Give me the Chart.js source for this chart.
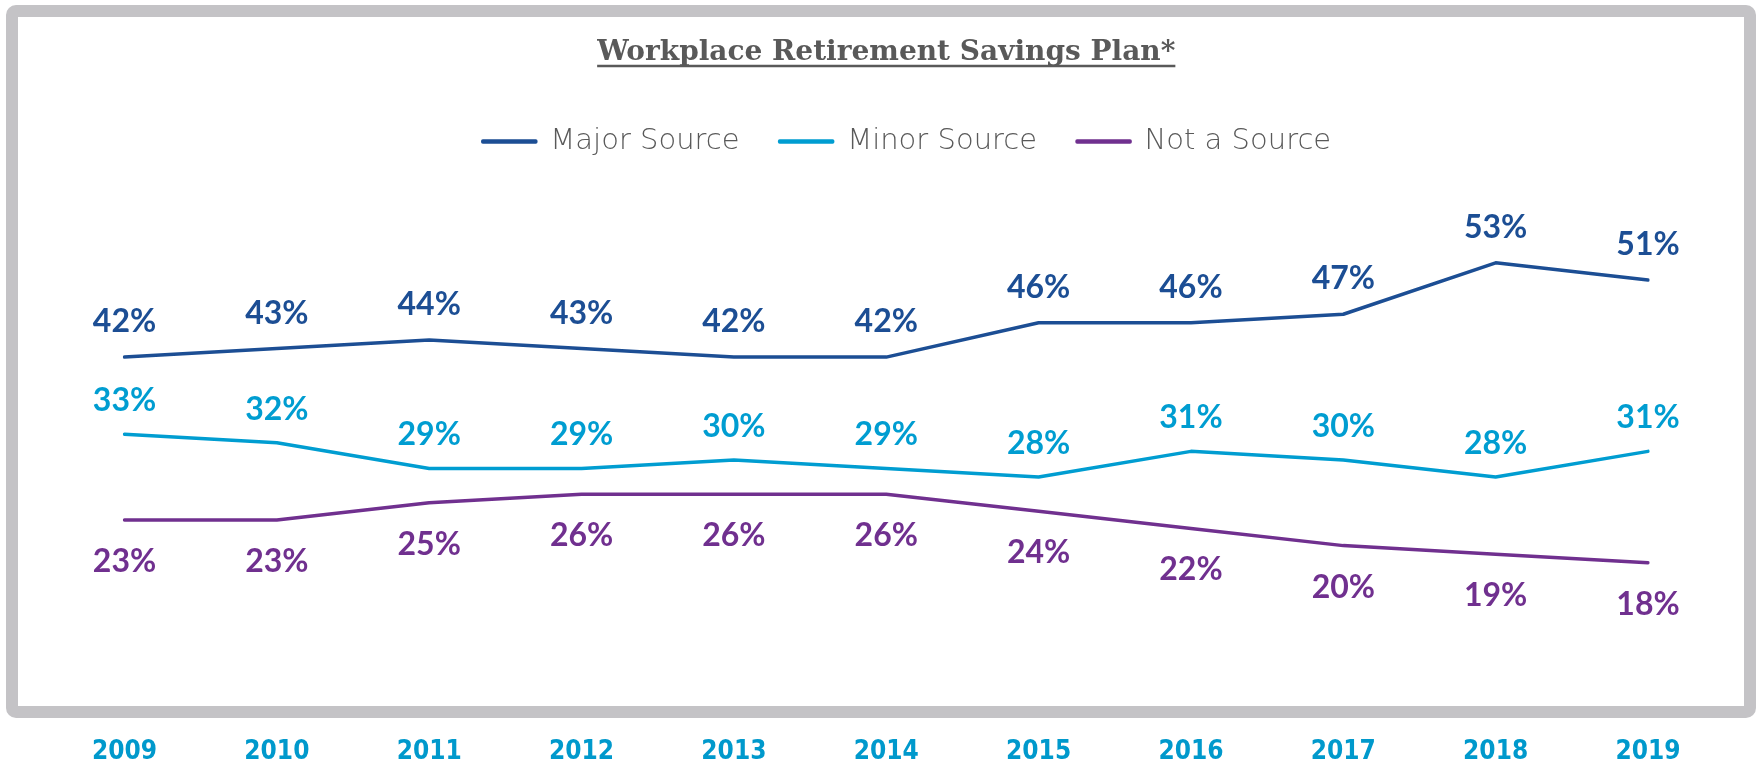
<!DOCTYPE html>
<html>
<head>
<meta charset="utf-8">
<script src="https://cdn.jsdelivr.net/npm/chart.js@4.4.1/dist/chart.umd.min.js"></script>
<style>
  html, body { margin: 0; padding: 0; background: #fff; }
  canvas { display: block; }
</style>
</head>
<body>
<canvas id="planChart" width="1759" height="766"></canvas>
<script>
const years = ["2009", "2010", "2011", "2012", "2013", "2014", "2015", "2016", "2017", "2018", "2019"];
const majorSource = [42, 43, 44, 43, 42, 42, 46, 46, 47, 53, 51];
const minorSource = [33, 32, 29, 29, 30, 29, 28, 31, 30, 28, 31];
const notASource = [23, 23, 25, 26, 26, 26, 24, 22, 20, 19, 18];

const majorColor = "#1C4E94";
const minorColor = "#009DD1";
const notColor = "#70308F";

// grey frame + white background
const framePlugin = {
  id: "frame",
  beforeDraw(chart) {
    const ctx = chart.ctx;
    ctx.save();
    ctx.fillStyle = "#fff";
    ctx.fillRect(0, 0, chart.width, chart.height);
    ctx.strokeStyle = "#C4C3C6";
    ctx.lineWidth = 12;
    ctx.lineJoin = "round";
    ctx.beginPath();
    ctx.roundRect(12, 11, 1738, 701, 4);
    ctx.stroke();
    ctx.restore();
  }
};

// value labels: above for the first two series, below for the last
const valueLabels = {
  id: "valueLabels",
  afterDatasetsDraw(chart) {
    const ctx = chart.ctx;
    const offsets = [-25, -23, 52];
    ctx.save();
    ctx.font = "bold 32px Lato";
    ctx.textAlign = "center";
    ctx.textBaseline = "alphabetic";
    chart.data.datasets.forEach((ds, i) => {
      const meta = chart.getDatasetMeta(i);
      ctx.fillStyle = ds.borderColor;
      meta.data.forEach((pt, j) => {
        ctx.fillText(ds.data[j] + "%", pt.x, pt.y + offsets[i]);
      });
    });
    ctx.restore();
  }
};

// underline for the title
const titleUnderline = {
  id: "titleUnderline",
  afterDraw(chart) {
    const tb = chart.titleBlock;
    const ctx = chart.ctx;
    ctx.save();
    ctx.font = "bold 28px 'DejaVu Serif'";
    const w = ctx.measureText(chart.options.plugins.title.text).width;
    const cx = tb.left + tb.width / 2;
    ctx.strokeStyle = "#595959";
    ctx.lineWidth = 2.5;
    ctx.beginPath();
    ctx.moveTo(cx - w / 2, 66);
    ctx.lineTo(cx + w / 2, 66);
    ctx.stroke();
    ctx.restore();
  }
};

function series(label, data, color) {
  return {
    label: label,
    data: data,
    borderColor: color,
    backgroundColor: color,
    borderWidth: 3.5,
    borderCapStyle: "round",
    borderJoinStyle: "round",
    pointRadius: 0,
    pointHoverRadius: 0,
    tension: 0
  };
}

new Chart(document.getElementById("planChart"), {
  type: "line",
  data: {
    labels: years,
    datasets: [
      series("Major Source", majorSource, majorColor),
      series("Minor Source", minorSource, minorColor),
      series("Not a Source", notASource, notColor)
    ]
  },
  options: {
    responsive: false,
    animation: false,
    layout: { padding: { left: 124.5, right: 69.5, top: 0, bottom: 0 } },
    plugins: {
      title: {
        display: true,
        fullSize: false,
        text: "Workplace Retirement Savings Plan*",
        color: "#595959",
        font: { family: "'DejaVu Serif'", size: 28, weight: "bold" },
        padding: { top: 35.7, bottom: 17.7 }
      },
      legend: {
        display: true,
        labels: {
          color: "#595959",
          font: { family: "'DejaVu Sans'", size: 29, weight: "200" },
          boxWidth: 53,
          boxHeight: 1,
          padding: 40
        }
      },
      tooltip: { enabled: false }
    },
    scales: {
      x: {
        offset: false,
        grid: { display: false, drawTicks: false },
        border: { display: false },
        ticks: {
          color: "#0099CC",
          font: { family: "'DejaVu Sans Condensed', 'DejaVu Sans'", size: 26, weight: "bold" },
          padding: 19.5,
          autoSkip: false,
          maxRotation: 0
        },
        afterFit(scale) { scale.height = 49; }
      },
      y: {
        position: "right",
        min: 0,
        max: 64.3,
        grid: { display: false, drawTicks: false },
        border: { display: false },
        ticks: { display: false },
        afterFit(scale) { scale.width = 41.5; }
      }
    }
  },
  plugins: [framePlugin, valueLabels, titleUnderline]
});
</script>
</body>
</html>
